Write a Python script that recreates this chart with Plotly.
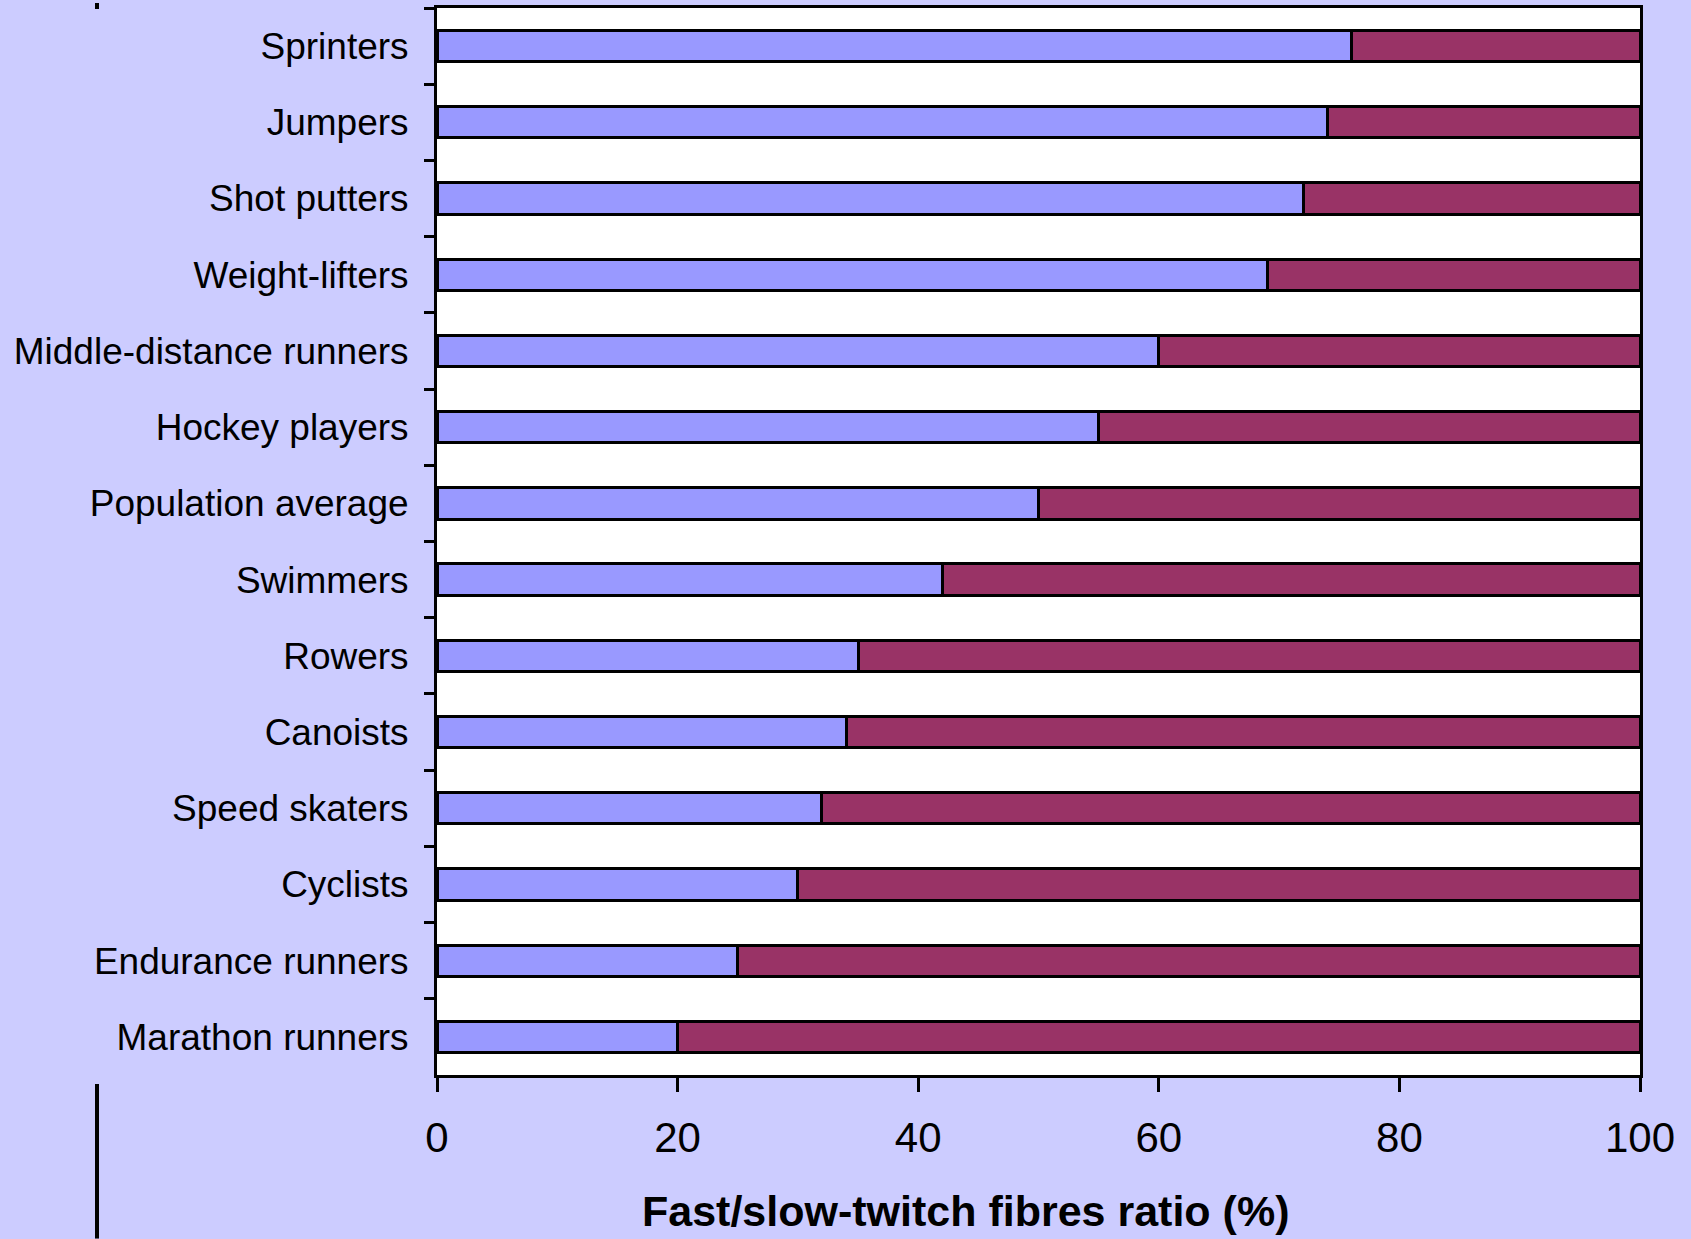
import plotly.graph_objects as go

# Muscle fibre composition by sport (top to bottom as listed)
categories = [
    "Sprinters",
    "Jumpers",
    "Shot putters",
    "Weight-lifters",
    "Middle-distance runners",
    "Hockey players",
    "Population average",
    "Swimmers",
    "Rowers",
    "Canoists",
    "Speed skaters",
    "Cyclists",
    "Endurance runners",
    "Marathon runners",
]
fast_twitch = [76, 74, 72, 69, 60, 55, 50, 42, 35, 34, 32, 30, 25, 20]
slow_twitch = [24, 26, 28, 31, 40, 45, 50, 58, 65, 66, 68, 70, 75, 80]
x_ticks = [0, 20, 40, 60, 80, 100]
x_title = "Fast/slow-twitch fibres ratio (%)"

FONT = "Liberation Sans, Arial, Helvetica, sans-serif"
BG = "#CCCCFF"
FAST_COLOR = "#9999FF"
SLOW_COLOR = "#993366"

fig = go.Figure()
fig.add_trace(go.Bar(
    y=categories, x=fast_twitch, orientation="h", name="Fast-twitch",
    marker=dict(color=FAST_COLOR, line=dict(color="black", width=3)),
))
fig.add_trace(go.Bar(
    y=categories, x=slow_twitch, orientation="h", name="Slow-twitch",
    marker=dict(color=SLOW_COLOR, line=dict(color="black", width=3)),
))

W, H = 1691, 1239
ml, mr, mt, mb = 437, 51, 5, 164
plot_h = H - mt - mb
plot_w = W - ml - mr


def px_to_paper_x(px):
    return (px - ml) / plot_w


def px_to_paper_y(py):
    return (H - mb - py) / plot_h


fig.update_layout(
    width=W, height=H,
    margin=dict(l=ml, r=mr, t=mt, b=mb, pad=0),
    paper_bgcolor=BG,
    plot_bgcolor="white",
    barmode="stack",
    bargap=0.59,
    showlegend=False,
    font=dict(family=FONT, color="black"),
)

fig.update_xaxes(
    range=[0, 100],
    tickvals=x_ticks,
    ticktext=[str(v) for v in x_ticks],
    ticks="outside", ticklen=14, tickwidth=2.5, tickcolor="black",
    showline=True, linewidth=3, linecolor="black", mirror=True,
    showgrid=False, zeroline=False,
    tickfont=dict(size=42, family=FONT, color="black"),
    ticklabelstandoff=10,
)
fig.update_yaxes(
    type="category",
    categoryorder="array", categoryarray=categories,
    autorange="reversed",
    ticks="outside", tickson="boundaries", ticklen=10, tickwidth=3, tickcolor="black",
    showline=True, linewidth=3, linecolor="black", mirror=True,
    showgrid=False, zeroline=False,
    tickfont=dict(size=37, family=FONT, color="black"),
    ticklabelstandoff=18,
)

# Axis title, set slightly left of the plot centre
fig.add_annotation(
    text=f"<b>{x_title}</b>",
    xref="paper", yref="paper",
    x=px_to_paper_x(965), y=px_to_paper_y(1211),
    xanchor="center", yanchor="middle",
    showarrow=False,
    font=dict(size=43, family=FONT, color="black"),
)

# Thin vertical rules on the left of the slide
for y0, y1 in [(0, 6), (1084, 1239)]:
    fig.add_shape(
        type="line", xref="paper", yref="paper",
        x0=px_to_paper_x(97), x1=px_to_paper_x(97),
        y0=px_to_paper_y(y0), y1=px_to_paper_y(y1),
        line=dict(color="black", width=4),
    )

fig.write_html("out.html")
